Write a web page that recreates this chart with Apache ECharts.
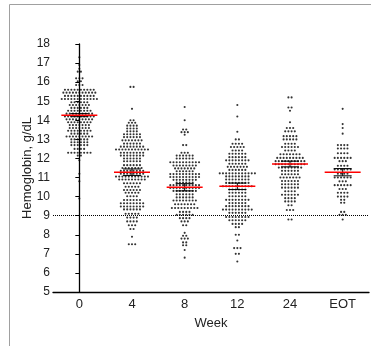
<!DOCTYPE html>
<html>
<head>
<meta charset="utf-8">
<script src="https://cdn.jsdelivr.net/npm/echarts@6/dist/echarts.min.js"></script>
<style>
  html, body { margin: 0; padding: 0; background: #fff; }
  #chart { width: 371px; height: 346px; }
</style>
</head>
<body>
<div id="chart"></div>
<script>
// weeks on the x axis
const categories = ['0', '4', '8', '12', '24', 'EOT'];

// dots per week as [hemoglobin g/dL, number of patients in that row]
const week0 = [[17.3,1],[16.9,1],[16.7,1],[16.55,2],[16.2,3],[16.05,2],[15.85,3],[15.6,10],[15.45,11],
  [15.28,10],[15.12,12],[14.95,6],[14.8,7],[14.65,6],[14.5,8],[14.35,9],[14.2,10],[14.05,9],
  [13.9,8],[13.75,7],[13.6,7],[13.45,8],[13.3,6],[13.15,9],[13.0,6],[12.85,6],[12.7,6],
  [12.5,4],[12.3,8],[12.15,2],[11.9,1],[11.2,1],[10.8,1],[9.9,1]];
const week4 = [[15.75,2],[14.6,1],[14.0,2],[13.87,3],[13.72,4],[13.57,4],[13.42,4],[13.27,6],
  [13.12,6],[12.95,7],[12.78,6],[12.62,8],[12.47,11],[12.3,8],[12.15,8],[12.0,6],[11.85,6],
  [11.65,6],[11.5,7],[11.35,8],[11.2,8],[11.05,11],[10.9,9],[10.7,6],[10.52,5],[10.35,6],
  [10.2,5],[10.02,4],[9.82,6],[9.65,8],[9.48,8],[9.33,6],[9.1,5],[8.9,4],[8.7,4],[8.5,3],
  [8.3,2],[7.9,1],[7.5,3]];
const week8 = [[14.7,1],[14.0,1],[13.52,2],[13.38,3],[13.24,1],[12.7,2],[12.3,3],[12.15,6],[12.0,6],
  [11.8,10],[11.63,8],[11.48,7],[11.33,6],[11.18,10],[11.03,10],[10.88,8],[10.74,6],[10.6,10],
  [10.45,10],[10.3,8],[10.12,6],[9.96,6],[9.8,8],[9.6,7],[9.4,9],[9.2,4],[9.05,6],[8.87,4],
  [8.7,3],[8.5,2],[8.1,1],[7.95,2],[7.8,3],[7.6,2],[7.45,2],[7.2,1],[6.8,1]];
const week12 = [[14.8,1],[14.2,1],[13.4,1],[13.0,2],[12.77,4],[12.6,5],[12.42,4],[12.25,6],[12.07,6],
  [11.9,8],[11.72,6],[11.56,7],[11.4,6],[11.22,12],[11.06,8],[10.9,8],[10.72,8],[10.54,10],
  [10.37,6],[10.2,6],[10.02,6],[9.83,8],[9.66,6],[9.5,8],[9.32,10],[9.15,6],[8.93,8],[8.76,6],
  [8.57,4],[8.4,2],[8.0,2],[7.7,1],[7.3,3],[7.0,2],[6.6,1]];
const week24 = [[15.2,2],[14.67,2],[14.5,1],[13.9,1],[13.6,3],[13.42,4],[13.17,5],[13.0,5],[12.77,4],
  [12.6,6],[12.42,4],[12.22,7],[12.03,9],[11.86,10],[11.7,10],[11.52,8],[11.35,6],[11.17,6],
  [11.0,7],[10.82,6],[10.65,6],[10.47,6],[10.28,4],[10.1,6],[9.92,4],[9.75,4],[9.55,2],
  [9.3,3],[8.8,2]];
const weekEOT = [[14.6,1],[13.8,1],[13.6,1],[13.3,1],[12.7,4],[12.52,4],[12.27,4],[12.03,6],[11.86,3],
  [11.62,4],[11.42,6],[11.2,4],[11.0,6],[10.8,3],[10.6,6],[10.4,3],[10.2,4],[10.0,4],[9.83,2],
  [9.68,2],[9.2,2],[9.05,3],[8.8,1]];

// mean and error bar half-length
const means = [14.27, 11.28, 10.49, 10.54, 11.71, 11.28];
const errs = [0.08, 0.17, 0.19, 0.17, 0.15, 0.19];
const threshold = 9;

const groups = [week0, week4, week8, week12, week24, weekEOT];
const DOT_STEP = 3.2 / 52.7; // horizontal dot spacing, in category widths

// rows of dots centred on each category
const dots = [];
groups.forEach((rows, i) => {
  rows.forEach(([v, n]) => {
    for (let k = 0; k < n; k++) {
      dots.push([i + (k - (n - 1) / 2) * DOT_STEP, v]);
    }
  });
});

const summary = means.map((m, i) => [i, m, errs[i]]);

const chart = echarts.init(document.getElementById('chart'), null, { renderer: 'canvas' });
const font = 'Liberation Sans, Arial, sans-serif';

chart.setOption({
  animation: false,
  backgroundColor: '#fff',
  graphic: [{
    type: 'rect',
    shape: { x: 9.5, y: 4.5, width: 420, height: 420 },
    style: { fill: 'none', stroke: '#a0a0a0', lineWidth: 1 },
    silent: true
  }],
  grid: { left: 53, right: 2, top: 44, bottom: 54 },
  xAxis: [{
    type: 'category',
    data: categories,
    name: 'Week',
    nameLocation: 'middle',
    nameGap: 25,
    nameTextStyle: { fontFamily: font, fontSize: 13, color: '#222' },
    axisLine: { lineStyle: { color: '#000', width: 1.3 } },
    axisTick: { alignWithLabel: true, length: 4, lineStyle: { color: '#000' } },
    axisLabel: { fontFamily: font, fontSize: 13, color: '#222', margin: 6 },
    splitLine: { show: false }
  }, {
    type: 'value',
    min: -0.5,
    max: 5.5,
    show: false
  }],
  yAxis: {
    type: 'value',
    min: 5,
    max: 18,
    interval: 1,
    name: 'Hemoglobin, g/dL',
    nameLocation: 'middle',
    nameGap: 19,
    nameMoveOverlap: false,
    nameTextStyle: { fontFamily: font, fontSize: 13, color: '#222' },
    axisLine: { show: true, lineStyle: { color: '#000', width: 1.3 } },
    axisTick: { show: true, length: 4, lineStyle: { color: '#000' } },
    axisLabel: { fontFamily: font, fontSize: 12, color: '#222', margin: 3 },
    splitLine: { show: false }
  },
  series: [{
    type: 'scatter',
    xAxisIndex: 1,
    data: dots,
    symbol: 'circle',
    symbolSize: 2.1,
    itemStyle: { color: '#000' },
    markLine: {
      silent: true,
      symbol: 'none',
      label: { show: false },
      lineStyle: { color: '#000', type: [1, 1], width: 1 },
      data: [{ yAxis: threshold }]
    }
  }, {
    type: 'custom',
    xAxisIndex: 1,
    data: summary,
    renderItem: (params, api) => {
      const x = api.value(0), m = api.value(1), e = api.value(2);
      const c = api.coord([x, m]);
      const hi = api.coord([x, m + e]);
      const lo = api.coord([x, m - e]);
      const black = { stroke: '#000', lineWidth: 1 };
      return {
        type: 'group',
        children: [
          { type: 'line', shape: { x1: c[0], y1: hi[1], x2: c[0], y2: lo[1] }, style: black },
          { type: 'line', shape: { x1: c[0] - 9, y1: hi[1], x2: c[0] + 9, y2: hi[1] }, style: black },
          { type: 'line', shape: { x1: c[0] - 9, y1: lo[1], x2: c[0] + 9, y2: lo[1] }, style: black },
          { type: 'line', shape: { x1: c[0] - 18, y1: c[1], x2: c[0] + 18, y2: c[1] },
            style: { stroke: '#ff0000', lineWidth: 1.5 } }
        ]
      };
    },
    z: 5
  }]
});
</script>
</body>
</html>
